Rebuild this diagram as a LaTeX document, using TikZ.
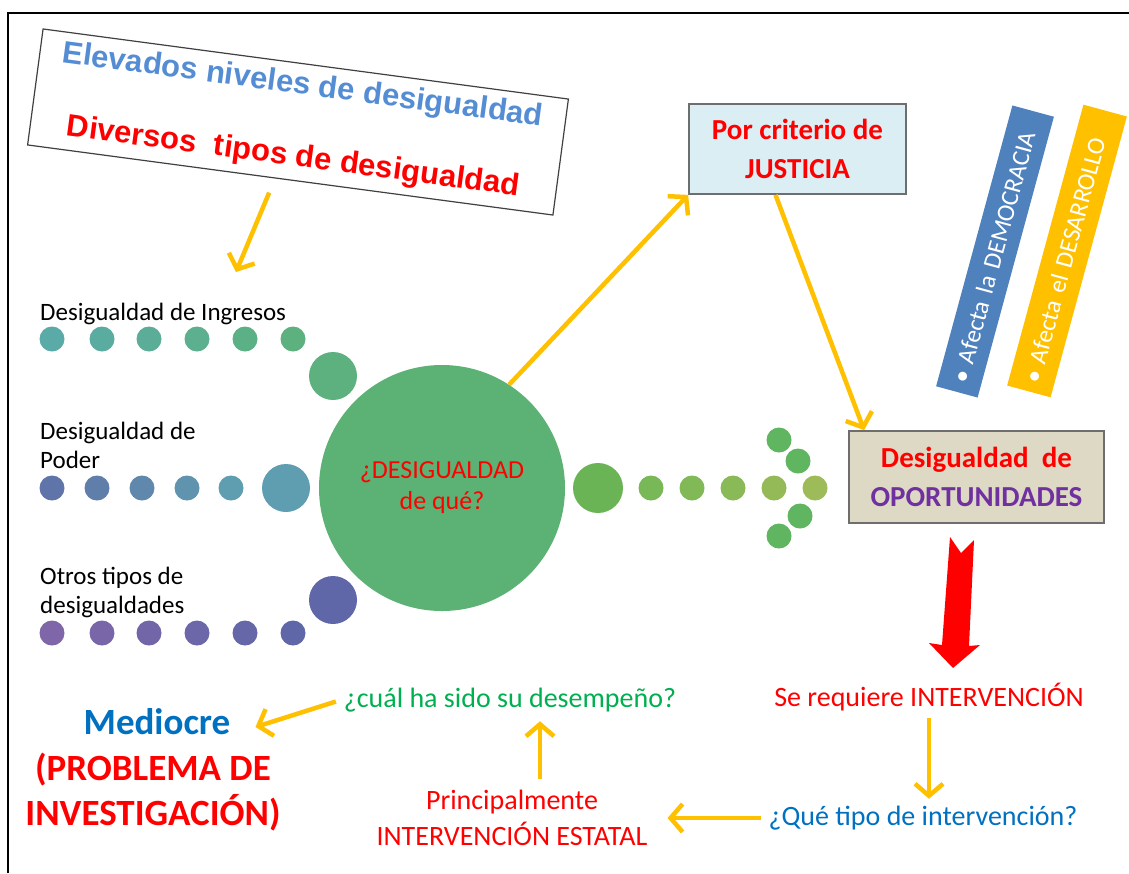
\documentclass[tikz,border=0pt]{standalone}
\usepackage{fontspec}
\setmainfont{Carlito}
\newfontfamily\arialfont{Liberation Sans}
\usetikzlibrary{arrows.meta}
\definecolor{ArrowYellow}{RGB}{255,192,0}
\definecolor{LabelRed}{RGB}{255,0,0}
\definecolor{LabelBlue}{RGB}{0,112,192}
\definecolor{LabelGreen}{RGB}{0,176,80}
\definecolor{LabelPurple}{RGB}{112,48,160}
\definecolor{TopBlue}{RGB}{84,141,212}
\definecolor{BarBlue}{RGB}{79,129,189}
\definecolor{BoxGray}{RGB}{110,110,110}
\definecolor{JusticeBg}{RGB}{219,238,244}
\definecolor{ChanceBg}{RGB}{221,217,196}
\definecolor{HubGreen}{RGB}{92,178,116}
\definecolor{IncomeStart}{RGB}{90,171,168}
\definecolor{IncomeEnd}{RGB}{93,177,126}
\definecolor{PowerStart}{RGB}{95,116,168}
\definecolor{PowerEnd}{RGB}{95,157,176}
\definecolor{OtherStart}{RGB}{126,102,168}
\definecolor{OtherEnd}{RGB}{95,103,169}
\definecolor{OutBig}{RGB}{106,180,86}
\definecolor{OutStart}{RGB}{120,184,86}
\definecolor{OutEnd}{RGB}{157,187,88}
\definecolor{OutTip}{RGB}{96,181,96}

\begin{document}
\begin{tikzpicture}[x=1pt,y=-1pt,
    flecha/.style={draw=ArrowYellow,line width=4.5pt,-{Straight Barb[length=12pt,width=28pt]}},
    caja/.style={draw=BoxGray,line width=1.8pt,align=center,inner sep=0pt,
                 font=\bfseries\fontsize{29}{39}\selectfont},
    punto/.style={circle,inner sep=0pt,minimum size=25pt},
    bigdot/.style={circle,inner sep=0pt,minimum size=48pt},
    etiqueta/.style={anchor=base west,align=left,inner sep=0pt,font=\fontsize{25}{29}\selectfont},
    texto/.style={align=center,inner sep=3pt,font=\fontsize{28}{36}\selectfont},
    barra/.style={rotate=74.8,minimum height=43pt,inner ysep=0pt,inner xsep=10pt,
                  text width=271pt,align=left,text=white,font=\fontsize{25}{30}\selectfont}]
  \useasboundingbox (0,0) rectangle (1129,873);
  \fill[white] (0,0) rectangle (1129,873);
  \draw[line width=2.5pt] (8,873) -- (8,13) -- (1129,13);

  % heading box
  \node[draw=black!75,line width=1.2pt,fill=white,rotate=-7.6,minimum width=530pt,
        minimum height=117pt,align=center,inner sep=0pt,
        font=\arialfont\bfseries\fontsize{31}{72}\selectfont] (elevados) at (298,122)
    {\textcolor{TopBlue}{Elevados niveles de desigualdad}\\
     \textcolor{LabelRed}{Diversos\ \ tipos de desigualdad}};
  \coordinate (filas) at (236,272);
  \draw[flecha,shorten <=13pt] ([xshift=-16pt]elevados.south) -- (filas);

  % three rows of dots
  \node[etiqueta] (ingresos) at (40,320) {Desigualdad de Ingresos};
  \foreach \x [count=\i from 0] in {52,102,149,197,245,293} {
    \pgfmathtruncatemacro\p{100-20*\i}
    \node[punto,fill=IncomeStart!\p!IncomeEnd] (ing\i) at (\x,339) {};
  }
  \node[bigdot,fill=IncomeEnd] (ingbig) at (333,376) {};

  \node[etiqueta] (poder) at (40,468) {Desigualdad de\\Poder};
  \foreach \x [count=\i from 0] in {52,97,142,187,231} {
    \pgfmathtruncatemacro\p{100-25*\i}
    \node[punto,fill=PowerStart!\p!PowerEnd] (pod\i) at (\x,488) {};
  }
  \node[bigdot,fill=PowerEnd] (podbig) at (286,488) {};

  \node[etiqueta] (otros) at (40,613) {Otros tipos de\\desigualdades};
  \foreach \x [count=\i from 0] in {52,102,149,197,245,293} {
    \pgfmathtruncatemacro\p{100-20*\i}
    \node[punto,fill=OtherStart!\p!OtherEnd] (otr\i) at (\x,633) {};
  }
  \node[bigdot,fill=OtherEnd] (otrbig) at (333,600) {};

  % hub
  \node[circle,fill=HubGreen,minimum size=246pt,inner sep=0pt,align=center,
        text=LabelRed,font=\fontsize{26}{31}\selectfont] (centro) at (442,488)
    {¿DESIGUALDAD\\de qué?};

  % dotted arrow to the right
  \node[bigdot,minimum size=50pt,fill=OutBig] (salida) at (598,488) {};
  \foreach \x [count=\i from 0] in {651,692,733,774,815} {
    \pgfmathtruncatemacro\p{100-25*\i}
    \node[punto,fill=OutStart!\p!OutEnd] (sal\i) at (\x,488) {};
  }
  \foreach \x/\y [count=\i] in {779/440,798/461,800/516,779/536}
    \node[punto,fill=OutTip] (punta\i) at (\x,\y) {};

  % boxes
  \node[caja,fill=JusticeBg,minimum width=217pt,minimum height=90pt,text=LabelRed]
    (justicia) at (797.5,149) {Por criterio de\\JUSTICIA};
  \node[caja,fill=ChanceBg,minimum width=255pt,minimum height=92pt]
    (oportunidades) at (976.5,477)
    {\textcolor{LabelRed}{Desigualdad\ \ de}\\\textcolor{LabelPurple}{OPORTUNIDADES}};
  \draw[flecha] (centro.57) -- (justicia.south west);
  \draw[flecha] ([xshift=-22pt]justicia.south) -- ([xshift=16pt]oportunidades.north west);

  % slanted bars
  \node[barra,fill=BarBlue] (democracia) at (995,251.5)
    {\textbullet\hspace{7pt}Afecta la DEMOCRACIA};
  \node[barra,fill=ArrowYellow,minimum height=45pt] (desarrollo) at (1067,251)
    {\textbullet\hspace{7pt}Afecta el DESARROLLO};

  % red arrow
  \fill[LabelRed] (950,537) -- (961,553) -- (974,540) -- (969,646) -- (980,645)
    -- (953,668) -- (929,643) -- (942,645) -- cycle;

  % lower chain
  \node[texto,text=LabelRed] (intervencion) at (929,697) {Se requiere INTERVENCIÓN};
  \node[texto,text=LabelBlue] (tipo) at (923,818) {¿Qué tipo de intervención?};
  \node[texto,text=LabelRed] (estatal) at (512,818) {Principalmente\\INTERVENCIÓN ESTATAL};
  \node[texto,text=LabelGreen] (desempeno) at (510,700) {¿cuál ha sido su desempeño?};
  \node[texto,text=LabelBlue,font=\bfseries\fontsize{37}{46}\selectfont] (mediocre) at (157,722) {Mediocre};
  \node[texto,text=LabelRed,font=\bfseries\fontsize{37}{45}\selectfont] (problema) at (153,792)
    {(PROBLEMA DE\\INVESTIGACIÓN)};

  \draw[flecha,shorten <=4pt,shorten >=4pt] (intervencion.south) -- (intervencion.south |- tipo.north);
  \draw[flecha,shorten <=4pt,shorten >=17pt] (tipo.west) -- (estatal.east |- tipo.west);
  \draw[flecha,shorten <=8pt,shorten >=6pt] ([xshift=28pt]estatal.north) -- ([xshift=28pt]estatal.north |- desempeno.south);
  \draw[flecha,shorten <=5pt] (desempeno.west) -- ([xshift=22pt,yshift=-5pt]mediocre.east);
\end{tikzpicture}
\end{document}
